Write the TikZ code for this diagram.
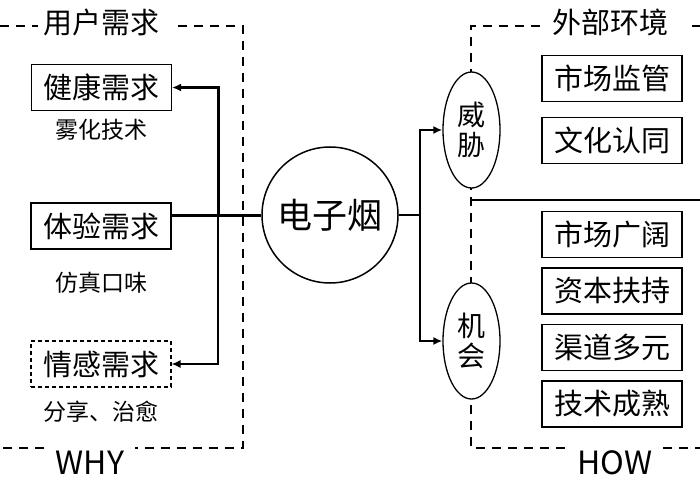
\documentclass[tikz,border=0pt]{standalone}
\usepackage{fontspec}
\setmainfont{Noto Sans CJK SC}
\usetikzlibrary{shapes.geometric,arrows.meta}
\tikzset{
  outerdash/.style={line width=2pt,dash pattern=on 9pt off 7pt},
  bigbox/.style={draw,line width=1.1pt,minimum width=140pt,minimum height=46pt,inner sep=0pt,font=\fontsize{29}{32}\selectfont},
  subtxt/.style={font=\fontsize{23}{26}\selectfont,inner sep=0pt},
  ttl/.style={font=\fontsize{29}{32}\selectfont,inner sep=0pt},
  lat/.style={font=\fontsize{32}{34}\selectfont,inner sep=0pt},
  ell/.style={draw,fill=white,ellipse,line width=1.3pt,minimum width=57pt,minimum height=116pt,inner sep=0pt,align=center,font=\fontsize{28}{30}\selectfont},
  thickln/.style={line width=3pt},
  midln/.style={line width=2.4pt},
  thinln/.style={line width=1.4pt},
  tip/.style={-{Latex[length=9pt,width=8pt]}},
}
\begin{document}
\begin{tikzpicture}[x=1pt,y=-1pt]
\useasboundingbox (0,0) rectangle (700,481);
% left dashed frame
\draw[outerdash] (0,26) -- (38,26);
\draw[outerdash] (178,26) -- (243,26) -- (243,448) -- (135,448);
\draw[outerdash] (44,448) -- (0,448);
\node[ttl] (t1) at (101,22) {用户需求};
\node[lat] (why) at (90,463) {WHY};
% right dashed frame
\draw[outerdash] (700,26) -- (692,26);
\draw[outerdash] (540,26) -- (471,26) -- (471,448) -- (565,448);
\draw[outerdash] (663,448) -- (700,448);
\node[ttl] (t2) at (610,22) {外部环境};
\node[lat] (how) at (615,463) {HOW};
\draw[midln] (471,200) -- (700,200);
% left boxes
\node[bigbox] (health) at (101.5,87.5) {健康需求};
\node[subtxt] (s1) at (101,130) {雾化技术};
\node[bigbox] (exp) at (101,226) {体验需求};
\node[subtxt] (s2) at (101,283) {仿真口味};
\node[bigbox,dashed,dash pattern=on 4pt off 3pt] (emo) at (101,364) {情感需求};
\node[subtxt] (s3) at (101,412) {分享、治愈};
% center circle
\node[draw,circle,line width=1.5pt,minimum size=136pt,inner sep=0pt,font=\fontsize{35}{38}\selectfont] (ec) at (330,215) {电子烟};
% ellipses
\node[ell] (threat) at (471.5,130) {威\\胁};
\node[ell] (opp) at (471.5,341) {机\\会};
% right boxes
\node[bigbox] (r1) at (612,78.5) {市场监管};
\node[bigbox] (r2) at (612,140.5) {文化认同};
\node[bigbox] (r3) at (612,234.5) {市场广阔};
\node[bigbox] (r4) at (612,291) {资本扶持};
\node[bigbox] (r5) at (612,347.5) {渠道多元};
\node[bigbox] (r6) at (612,404) {技术成熟};
% connectors left
\coordinate (jl) at (218,215);
\draw[thickln] (ec.west) -- (jl) -- (exp.east |- jl);
\draw[thickln,tip] (jl) |- (health.east);
\draw[thinln,tip] (jl) |- (emo.east);
% connectors right
\coordinate (jr) at (420,215);
\draw[midln] (ec.east) -- (jr);
\draw[midln,tip] (jr) |- (threat.west);
\draw[midln,tip] (jr) |- (opp.west);
\end{tikzpicture}
\end{document}
